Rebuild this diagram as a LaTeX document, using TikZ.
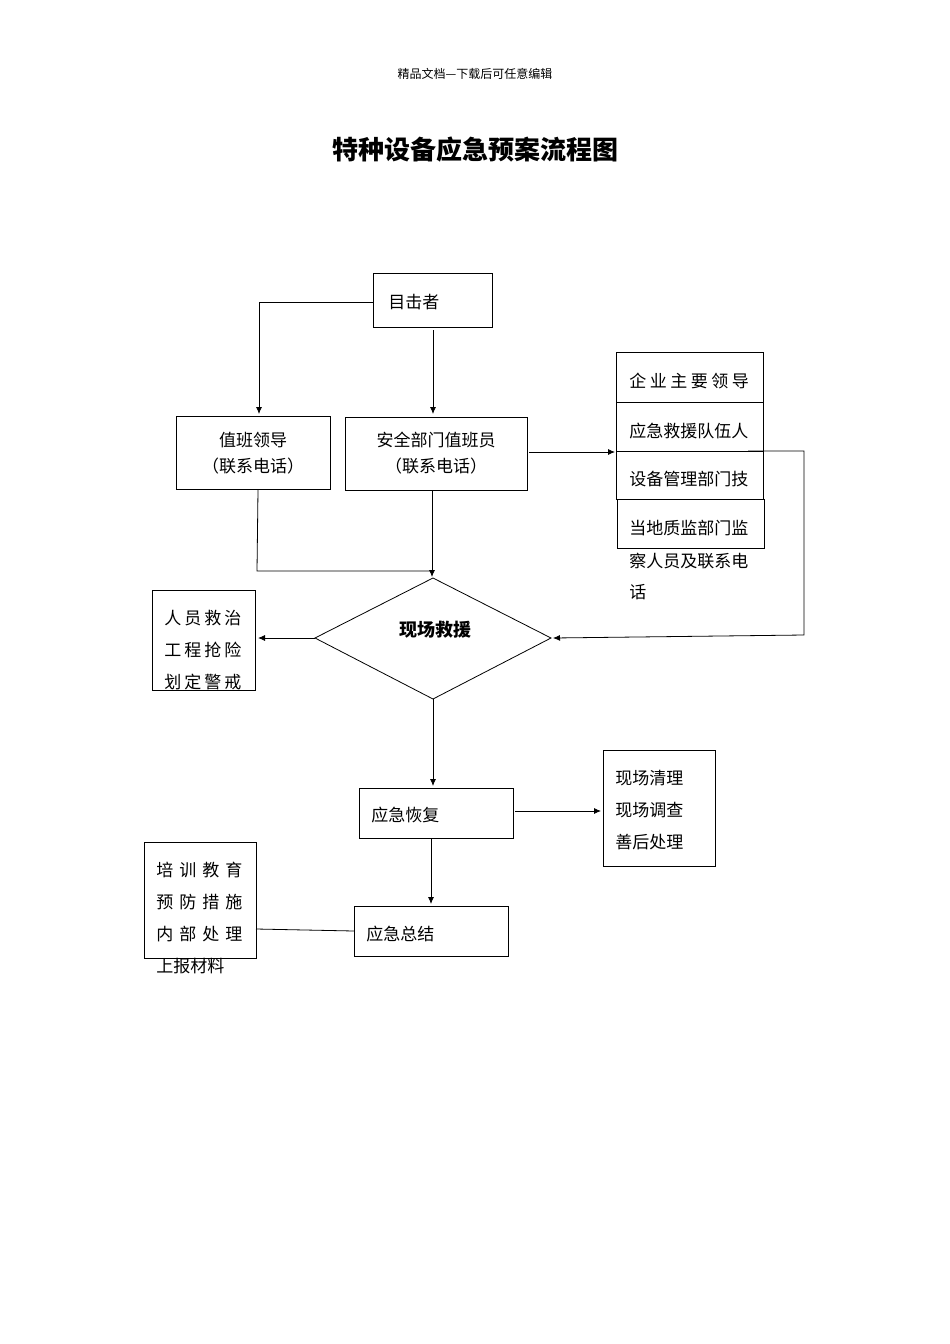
\documentclass[tikz,border=0pt]{standalone}
\usepackage{fontspec}
\setmainfont{Noto Sans CJK SC}
\usetikzlibrary{arrows.meta}
\begin{document}
\begin{tikzpicture}[x=1pt,y=-1pt,line width=0.8pt,
  txt/.style={font=\fontsize{17}{17}\selectfont,anchor=west,inner sep=0},
  arr/.style={-{Latex[length=7pt,width=6pt]}}]
\useasboundingbox (0,0) rectangle (950,1344);
\node (hd) at (475,74) {\fontsize{12}{12}\selectfont 精品文档---下载后可任意编辑};
\node (title) at (475,150) {\fontsize{26}{26}\selectfont\bfseries 特种设备应急预案流程图};
% boxes
\draw (373,273) rectangle (492,327);
\node[txt] (wt) at (388,302) {目击者};
\draw (176,416) rectangle (330,489);
\node[align=center,font=\fontsize{17}{26}\selectfont] (lead) at (253,453) {值班领导\\（联系电话）};
\draw (345,417) rectangle (527,490);
\node[align=center,font=\fontsize{17}{26}\selectfont] (safe) at (436,453) {安全部门值班员\\（联系电话）};
\draw (616,352) rectangle (763,402);
\draw (616,402) rectangle (763,451);
\draw (616,451) rectangle (763,499);
\draw (617,499) rectangle (764,548);
\node[txt] (r1) at (629,381) {企\kern3.5pt 业\kern3.5pt 主\kern3.5pt 要\kern3.5pt 领\kern3.5pt 导};
\node[txt] (r2) at (629,431) {应急救援队伍人};
\node[txt] (r3) at (629,479) {设备管理部门技};
\node[txt] (r4) at (629,528) {当地质监部门监};
\node[txt] (r5) at (629,561) {察人员及联系电};
\node[txt] (r6) at (629,592) {话};
\draw (315,638) -- (433,578) -- (551,638) -- (433,699) -- cycle;
\node (dia) at (435,630) {\fontsize{18}{18}\selectfont\bfseries 现场救援};
\draw (152,590) rectangle (255,690);
\node[txt] (l1) at (164,618) {人\kern3pt 员\kern3pt 救\kern3pt 治};
\node[txt] (l2) at (164,650) {工\kern3pt 程\kern3pt 抢\kern3pt 险};
\node[txt] (l3) at (164,682) {划\kern3pt 定\kern3pt 警\kern3pt 戒};
\draw (359,788) rectangle (513,838);
\node[txt] (rec) at (371,815) {应急恢复};
\draw (603,750) rectangle (715,866);
\node[txt] (c1) at (615,778) {现场清理};
\node[txt] (c2) at (615,810) {现场调查};
\node[txt] (c3) at (615,842) {善后处理};
\draw (144,842) rectangle (256,958);
\node[txt] (t1) at (156,870) {培\kern6pt 训\kern6pt 教\kern6pt 育};
\node[txt] (t2) at (156,902) {预\kern6pt 防\kern6pt 措\kern6pt 施};
\node[txt] (t3) at (156,934) {内\kern6pt 部\kern6pt 处\kern6pt 理};
\node[txt] (t4) at (156,966) {上报材料};
\draw (354,906) rectangle (508,956);
\node[txt] (sum) at (366,934) {应急总结};
% connectors
\draw[arr] (373,302) -- (259,302) -- (259,414);
\draw[arr] (433,330) -- (433,414);
\draw (258,490) -- (257,571) -- (433,571);
\draw[arr] (432,490) -- (432,577);
\draw[arr] (529,452) -- (615,452);
\draw[arr] (748,451) -- (804,451) -- (804,635) -- (553,638);
\draw[arr] (315,638) -- (258,638);
\draw[arr] (433,699) -- (433,786);
\draw[arr] (515,811) -- (601,811);
\draw[arr] (431,838) -- (431,904);
\draw (354,931) -- (256,929);
\end{tikzpicture}
\end{document}
